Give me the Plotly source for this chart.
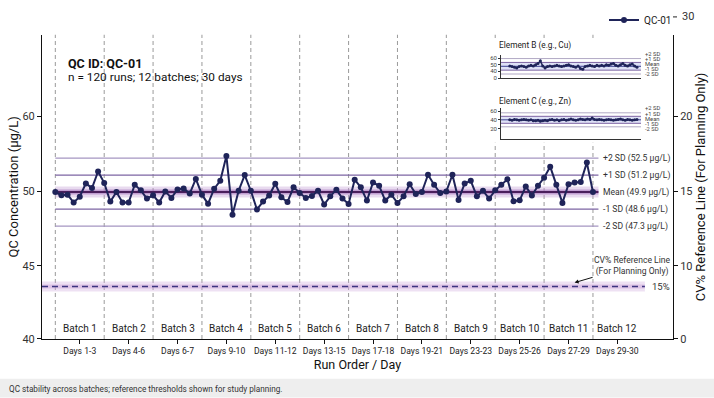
import plotly.graph_objects as go

# ---------------- data ----------------
runs = list(range(1, 90))
qc_values = [49.9, 49.65, 49.7, 49.1, 49.55, 50.56, 50.2, 51.47, 50.6, 49.17,
             49.9, 49.1, 49.1, 50.46, 50.03, 49.4, 49.65, 49.1, 49.95, 49.45,
             50.1, 50.18, 49.78, 50.9, 49.7, 49.0, 50.16, 50.76, 52.66, 48.16,
             50.0, 51.2, 50.0, 48.57, 49.17, 49.63, 50.54, 49.5, 49.14, 50.26,
             49.82, 49.45, 49.6, 50.0, 48.95, 49.57, 50.08, 49.4, 48.99, 50.84,
             50.26, 49.25, 50.63, 50.38, 49.25, 49.7, 49.07, 49.57, 50.5, 49.75,
             49.9, 51.22, 50.46, 49.82, 49.95, 51.22, 49.3, 50.56, 50.76, 49.57,
             50.0, 49.4, 50.03, 50.46, 50.88, 49.2, 49.27, 50.33, 49.63, 50.38,
             51.0, 51.84, 50.46, 49.07, 50.5, 50.63, 50.66, 52.15, 49.9]

batch_names = ["Batch 1", "Batch 2", "Batch 3", "Batch 4", "Batch 5", "Batch 6",
               "Batch 7", "Batch 8", "Batch 9", "Batch 10", "Batch 11", "Batch 12"]
day_labels = ["Days 1-3", "Days 4-6", "Days 6-7", "Days 9-10", "Days 11-12", "Days 13-15",
              "Days 17-18", "Days 19-21", "Days 23-23", "Days 25-26", "Days 27-29", "Days 29-30"]
runs_per_batch = 8

sd_names = ["+2 SD", "+1 SD", "Mean", "-1 SD", "-2 SD"]
sd_levels = [52.5, 51.2, 49.9, 48.6, 47.3]

left_tick_text = ["60", "50", "45", "40"]
right_tick_text = ["20", "15", "10", "0"]
right_top_tick = "30"
cv_reference_pct = 15
cv_plot_level = 42.68   # where the planning line is drawn on the concentration scale

inset_b_values = [48, 47, 46, 45, 47, 48, 47, 46, 48, 49, 48, 50, 52, 56, 48, 45, 47, 48, 47,
                  48, 49, 48, 47, 48, 49, 50, 48, 47, 46, 48, 44, 43, 47, 48, 49, 48, 47, 49,
                  48, 49, 48, 50, 49, 51, 52, 49, 48, 50, 52, 49, 48, 50, 51, 48, 46]
inset_b_sd = [59.5, 53.5, 47.5, 41.5, 35.5]
inset_c_values = [40, 39, 41, 40, 39, 40, 41, 40, 39, 40, 38, 38, 39, 37, 38, 39, 38, 40, 41, 39,
                  40, 38, 40, 41, 39, 40, 42, 40, 39, 40, 42, 41, 40, 42, 41, 44, 41, 40, 41, 40,
                  39, 40, 41, 40, 39, 40, 41, 42, 40, 39, 41, 40, 39, 40, 41]
inset_c_sd = [56, 48, 40, 32, 24]

# ---------------- layout helpers (pixel -> paper) ----------------
W, H = 714, 398
L, R, T, B = 42, 673, 5, 339       # paper area
PLOT_TOP = 32                       # top of main axes
def px_x(px):
    return (px - L) / (R - L)
def px_y(py):
    return (B - py) / (B - T)

FONT = "Roboto, Liberation Sans, Arial, sans-serif"
NAVY = "#1f2459"
x_range = [-1.18, 102.1]
y_range = [38.67, 61.92]
left_tick_pos = [55.7, 49.95, 44.27, 38.67]
main_dom = [0, px_y(PLOT_TOP)]

fig = go.Figure()

# CV reference line (glow + dash)
cv_x = [x_range[0], 97.5]
fig.add_trace(go.Scatter(x=cv_x, y=[cv_plot_level] * 2, mode="lines",
                         line=dict(color="rgba(205,170,220,0.35)", width=10),
                         hoverinfo="skip", showlegend=False))
fig.add_trace(go.Scatter(x=cv_x, y=[cv_plot_level] * 2, mode="lines",
                         line=dict(color="rgba(200,160,215,0.45)", width=4),
                         hoverinfo="skip", showlegend=False))
fig.add_trace(go.Scatter(x=cv_x, y=[cv_plot_level] * 2, mode="lines",
                         line=dict(color="#3d3580", width=1.4, dash="6px,4px"),
                         hoverinfo="skip", showlegend=False))

# SD lines
line_x = [runs[0], runs[-1] + 0.9]
sd_colors = ["#a596c2", "#7d64a3", None, "#7d64a3", "#a596c2"]
for name, lvl, col in zip(sd_names, sd_levels, sd_colors):
    if name == "Mean":
        fig.add_trace(go.Scatter(x=line_x, y=[lvl] * 2, mode="lines",
                                 line=dict(color="rgba(190,150,210,0.35)", width=11),
                                 hoverinfo="skip", showlegend=False))
        fig.add_trace(go.Scatter(x=line_x, y=[lvl] * 2, mode="lines",
                                 line=dict(color="rgba(160,110,185,0.55)", width=5),
                                 hoverinfo="skip", showlegend=False))
        fig.add_trace(go.Scatter(x=line_x, y=[lvl] * 2, mode="lines",
                                 line=dict(color="#4a1f5c", width=2),
                                 hoverinfo="skip", showlegend=False))
    else:
        fig.add_trace(go.Scatter(x=line_x, y=[lvl] * 2, mode="lines",
                                 line=dict(color=col, width=1.2),
                                 hoverinfo="skip", showlegend=False))

# QC series
fig.add_trace(go.Scatter(x=runs, y=qc_values, mode="lines+markers", name="QC-01",
                         line=dict(color=NAVY, width=2),
                         marker=dict(color=NAVY, size=6)))

# dummy trace to activate right axis
fig.add_trace(go.Scatter(x=[None], y=[None], yaxis="y2", showlegend=False, hoverinfo="skip"))

# ---------------- insets ----------------
def add_inset(values, sds, xa, ya):
    n = len(values)
    xr = [-3.7, n + 0.7]
    idx = list(range(n))
    fig.add_trace(go.Scatter(x=[xr[0], xr[1], xr[1], xr[0], xr[0]],
                             y=[sds[1], sds[1], sds[3], sds[3], sds[1]],
                             fill="toself", fillcolor="rgba(200,205,240,0.6)",
                             line=dict(width=0), mode="lines", xaxis=xa, yaxis=ya,
                             hoverinfo="skip", showlegend=False))
    cols = ["#b0a8c4", "#7d64a3", "#3a3f8f", "#7d64a3", "#b0a8c4"]
    for lvl, col in zip(sds, cols):
        fig.add_trace(go.Scatter(x=xr, y=[lvl] * 2, mode="lines",
                                 line=dict(color=col, width=1), xaxis=xa, yaxis=ya,
                                 hoverinfo="skip", showlegend=False))
    fig.add_trace(go.Scatter(x=idx, y=values, mode="lines+markers",
                             line=dict(color=NAVY, width=1.5),
                             marker=dict(color=NAVY, size=3),
                             xaxis=xa, yaxis=ya, hoverinfo="skip", showlegend=False))
    return xr

xr_b = add_inset(inset_b_values, inset_b_sd, "x2", "y3")
xr_c = add_inset(inset_c_values, inset_c_sd, "x3", "y4")

# ---------------- shapes ----------------
shapes = []
for k in range(len(batch_names)):
    xpos = runs[0] + k * runs_per_batch
    if xpos > runs[-1]:
        break
    shapes.append(dict(type="line", xref="x", yref="paper", x0=xpos, x1=xpos,
                       y0=0, y1=px_y(PLOT_TOP),
                       line=dict(color="#9a9a9a", width=1, dash="4px,3px"), layer="below"))
# white backdrop for insets
shapes.append(dict(type="rect", xref="paper", yref="paper",
                   x0=px_x(486), x1=px_x(668), y0=px_y(141), y1=px_y(36),
                   fillcolor="white", line=dict(width=0), layer="below"))
# caption band
shapes.append(dict(type="rect", xref="paper", yref="paper",
                   x0=px_x(0), x1=px_x(W), y0=px_y(H), y1=px_y(379),
                   fillcolor="#eeeeee", line=dict(width=0), layer="below"))
# extra right tick for the top label
shapes.append(dict(type="line", xref="paper", yref="paper",
                   x0=px_x(673), x1=px_x(677), y0=px_y(14), y1=px_y(14),
                   line=dict(color="#222", width=1)))

# ---------------- annotations ----------------
ann = []
ann.append(dict(text="<b>QC ID: QC-01</b>", x=px_x(66), y=px_y(61), xref="paper", yref="paper",
                xanchor="left", yanchor="middle", showarrow=False, font=dict(size=12.5, color="#111")))
ann.append(dict(text="n = 120 runs; 12 batches; 30 days", x=px_x(66), y=px_y(75),
                xref="paper", yref="paper", xanchor="left", yanchor="middle", showarrow=False,
                font=dict(size=11.8, color="#111")))
for name, lvl in zip(sd_names, sd_levels):
    ann.append(dict(text=f"{name} ({lvl} µg/L)", x=px_x(601), y=lvl, xref="paper", yref="y",
                    xanchor="left", yanchor="middle", showarrow=False,
                    font=dict(size=8.6, color="#333")))
for k, bn in enumerate(batch_names):
    ann.append(dict(text=bn, x=runs[0] + runs_per_batch * (k + 0.5), y=px_y(328),
                    xref="x", yref="paper", xanchor="center", yanchor="middle",
                    showarrow=False, font=dict(size=10, color="#222")))
ann.append(dict(text=f"{cv_reference_pct}%", x=px_x(650), y=cv_plot_level, xref="paper", yref="y",
                xanchor="left", yanchor="middle", showarrow=False, font=dict(size=9.5, color="#333")))
ann.append(dict(text="CV% Reference Line<br>(For Planning Only)", x=86.0, y=cv_plot_level + 0.3,
                xref="x", yref="y", showarrow=True, arrowhead=2, arrowsize=0.8, arrowwidth=1,
                arrowcolor="#111", ax=58, ay=-17, align="center",
                font=dict(size=8.6, color="#333")))
ann.append(dict(text=right_top_tick, x=px_x(680), y=px_y(14), xref="paper", yref="paper",
                xanchor="left", yanchor="middle", showarrow=False, font=dict(size=11, color="#333")))
ann.append(dict(text="QC stability across batches; reference thresholds shown for study planning.",
                x=px_x(7), y=px_y(389), xref="paper", yref="paper", xanchor="left", yanchor="middle",
                showarrow=False, font=dict(size=8.2, color="#333")))
# inset titles and labels
ann.append(dict(text="Element B (e.g., Cu)", x=px_x(497), y=px_y(43), xref="paper", yref="paper",
                xanchor="left", yanchor="middle", showarrow=False, font=dict(size=8.3, color="#222")))
ann.append(dict(text="Element C (e.g., Zn)", x=px_x(497), y=px_y(99), xref="paper", yref="paper",
                xanchor="left", yanchor="middle", showarrow=False, font=dict(size=8.3, color="#222")))
for nm, py in zip(sd_names, [51, 56.5, 62, 67, 72]):
    ann.append(dict(text=nm, x=px_x(643), y=px_y(py), xref="paper", yref="paper",
                    xanchor="left", yanchor="middle", showarrow=False, font=dict(size=5.8, color="#444")))
for nm, py in zip(sd_names, [106, 111.5, 117, 122, 127]):
    ann.append(dict(text=nm, x=px_x(643), y=px_y(py), xref="paper", yref="paper",
                    xanchor="left", yanchor="middle", showarrow=False, font=dict(size=5.8, color="#444")))

tick_centers = [runs[0] + runs_per_batch * (k + 0.5) for k in range(len(day_labels))]

fig.update_layout(
    width=W, height=H,
    margin=dict(l=L, r=W - R, t=T, b=H - B),
    paper_bgcolor="white", plot_bgcolor="white",
    font=dict(family=FONT, color="#333"),
    showlegend=True,
    legend=dict(x=px_x(604), y=px_y(17), xanchor="left", yanchor="middle",
                bgcolor="rgba(0,0,0,0)", font=dict(size=10, color="#222"),
                itemwidth=30, tracegroupgap=0),
    xaxis=dict(range=x_range, showgrid=False, zeroline=False, showline=True, linecolor="#111",
               linewidth=1, ticks="outside", ticklen=4, tickcolor="#111", tickangle=0,
               automargin=False,
               tickvals=tick_centers, ticktext=day_labels, tickfont=dict(size=8.6, color="#222"),
               title=dict(text="Run Order / Day", font=dict(size=12.5, color="#111"), standoff=4)),
    yaxis=dict(domain=main_dom, range=y_range, showgrid=False, zeroline=False, showline=True,
               linecolor="#111", automargin=False,
               linewidth=1, ticks="outside", ticklen=4, tickcolor="#111",
               tickvals=left_tick_pos, ticktext=left_tick_text, tickfont=dict(size=11, color="#333"),
               title=dict(text="QC Concentration (µg/L)", font=dict(size=13, color="#111"), standoff=0)),
    yaxis2=dict(overlaying="y", side="right", range=y_range, showgrid=False, zeroline=False,
                showline=True, linecolor="#111", linewidth=1, ticks="outside", ticklen=4,
                automargin=False,
                tickcolor="#111", tickvals=left_tick_pos, ticktext=right_tick_text,
                tickfont=dict(size=11, color="#333"),
                title=dict(text="CV% Reference Line (For Planning Only)",
                           font=dict(size=13, color="#111"), standoff=4)),
    xaxis2=dict(domain=[px_x(501), px_x(641)], anchor="y3", range=xr_b, showgrid=False,
                zeroline=False, showline=True, linecolor="#333", linewidth=0.8,
                showticklabels=False, ticks=""),
    yaxis3=dict(domain=[px_y(75.7), px_y(52)], anchor="x2", range=[29.2, 65.7], showgrid=False,
                zeroline=False, showline=True, linecolor="#333", linewidth=0.8, ticks="outside",
                ticklen=2, tickcolor="#333", tickvals=[60, 50, 40, 29.2], ticktext=["60", "50", "40", "0"],
                tickfont=dict(size=6, color="#444")),
    xaxis3=dict(domain=[px_x(501), px_x(641)], anchor="y4", range=xr_c, showgrid=False,
                zeroline=False, showline=True, linecolor="#333", linewidth=0.8,
                showticklabels=False, ticks=""),
    yaxis4=dict(domain=[px_y(137), px_y(106)], anchor="x3", range=[-3.4, 66.8], showgrid=False,
                zeroline=False, showline=True, linecolor="#333", linewidth=0.8, ticks="outside",
                ticklen=2, tickcolor="#333", tickvals=[60, 40, 20], ticktext=["60", "40", "20"],
                tickfont=dict(size=6, color="#444")),
    shapes=shapes,
    annotations=ann,
)

fig.write_html("out.html", config={"displayModeBar": False},
               post_script="document.body.style.margin='0';document.body.style.overflow='hidden';")
